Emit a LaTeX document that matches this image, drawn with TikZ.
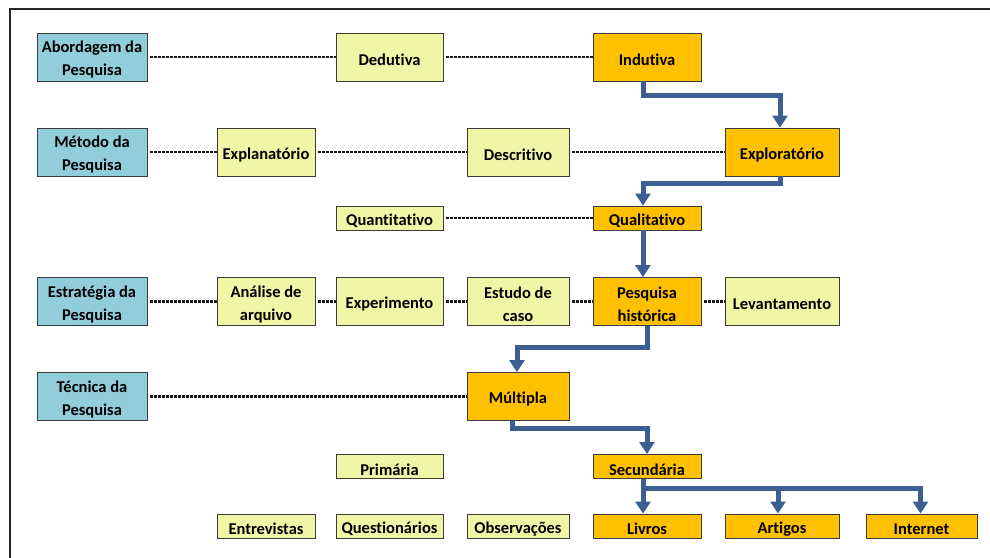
\documentclass[tikz,border=0pt]{standalone}
\usepackage{fontspec}
\setmainfont{Carlito}[Ligatures=NoCommon]
\usetikzlibrary{arrows.meta}
\definecolor{lblblue}{HTML}{92CDDC}
\definecolor{lightyel}{HTML}{EFF6A6}
\definecolor{orng}{HTML}{FFC000}
\definecolor{arrblue}{RGB}{59,95,145}
\definecolor{boxline}{HTML}{3A3A3A}
\newcommand{\dl}[1]{\raisebox{-3pt}[\height][\depth]{#1}}
\tikzset{
  box/.style={draw=boxline, line width=0.9pt, align=center, inner sep=0pt,
    font=\fontsize{16.5}{23}\selectfont\bfseries, text=black},
  blue/.style={box, fill=lblblue, minimum width=110pt},
  yel/.style={box, fill=lightyel},
  org/.style={box, fill=orng},
  tall/.style={minimum height=48pt},
  short/.style={minimum height=24pt},
  cA/.style={minimum width=98pt},
  cB/.style={minimum width=107pt},
  cC/.style={minimum width=102pt},
  cD/.style={minimum width=108pt},
  cE/.style={minimum width=114pt},
  cF/.style={minimum width=111pt},
  dots/.style={line width=2.6pt, draw=black!90, dash pattern=on 2.2pt off 1.8pt, shorten <=3pt},
  arr/.style={line width=5pt, draw=arrblue, -{Triangle[width=15pt,length=12pt]}},
}
\begin{document}
\begin{tikzpicture}[x=1pt,y=-1pt]
\useasboundingbox (0,0) rectangle (990,557);
\fill[white] (0,0) rectangle (990,557);
\draw[line width=2pt, black!85] (10,560) -- (10,9) -- (995,9);

% row 1
\node[blue,tall] (abord) at (92,57) {\dl{Abordagem da}\\\dl{Pesquisa}};
\node[yel,tall,cB] (dedut) at (389.5,57) {\dl{Dedutiva}};
\node[org,tall,cD] (indut) at (647,57) {\dl{Indutiva}};
% row 2
\node[blue,tall] (metodo) at (92,152) {\dl{Método da}\\\dl{Pesquisa}};
\node[yel,tall,cA] (explan) at (266,152) {\dl{Explanatório}};
\node[yel,tall,cC] (descr) at (518,152) {\dl{Descritivo}};
\node[org,tall,cE] (explor) at (782,152) {\dl{Exploratório}};
% row 3
\node[yel,short,cB] (quant) at (389.5,218) {\dl{Quantitativo}};
\node[org,short,cD] (quali) at (647,218) {\dl{Qualitativo}};
% row 4
\node[blue,tall] (estrat) at (92,301.5) {\dl{Estratégia da}\\\dl{Pesquisa}};
\node[yel,tall,cA] (analise) at (266,301.5) {\dl{Análise de}\\\dl{arquivo}};
\node[yel,tall,cB] (experim) at (389.5,301.5) {\dl{Experimento}};
\node[yel,tall,cC] (estudo) at (518,301.5) {\dl{Estudo de}\\\dl{caso}};
\node[org,tall,cD] (pesqhist) at (647,301.5) {\dl{Pesquisa}\\\dl{histórica}};
\node[yel,tall,cE] (levant) at (782,301.5) {\dl{Levantamento}};
% row 5
\node[blue,tall] (tecnica) at (92,396.5) {\dl{Técnica da}\\\dl{Pesquisa}};
\node[org,tall,cC] (multipla) at (518,396.5) {\dl{Múltipla}};
% row 6
\node[yel,short,cB] (primaria) at (389.5,466.5) {\dl{Primária}};
\node[org,short,cD] (secund) at (647,466.5) {\dl{Secundária}};
% row 7
\node[yel,short,cA] (entrev) at (266,526) {\dl{Entrevistas}};
\node[yel,short,cB] (quest) at (389.5,526) {\dl{Questionários}};
\node[yel,short,cC] (obs) at (518,526) {\dl{Observações}};
\node[org,short,cD] (livros) at (647,526) {\dl{Livros}};
\node[org,short,cE] (artigos) at (782,526) {\dl{Artigos}};
\node[org,short,cF] (internet) at (921.5,526) {\dl{Internet}};

% dotted connectors
\draw[dots] (abord) -- (dedut);
\draw[dots] (dedut) -- (indut);
\draw[dots] (metodo) -- (explan);
\draw[dots] (explan) -- (descr);
\draw[dots] (descr) -- (explor);
\draw[dots] (quant) -- (quali);
\draw[dots] (estrat) -- (analise);
\draw[dots] (analise) -- (experim);
\draw[dots] (experim) -- (estudo);
\draw[dots] (estudo) -- (pesqhist);
\draw[dots] (pesqhist) -- (levant);
\draw[dots] (tecnica) -- (multipla);

% blue arrows
\draw[arr] ([xshift=-4pt]indut.south) -- ++(0,14) -| ([xshift=-2pt]explor.north);
\draw[arr] ([xshift=-2pt]explor.south) -- ++(0,7) -| ([xshift=-4pt]quali.north);
\draw[arr] ([xshift=-4pt]quali.south) -- ([xshift=-4pt]pesqhist.north);
\draw[arr] (pesqhist.south) -- ++(0,22) -| ([xshift=-1pt]multipla.north);
\draw[arr] ([xshift=-6pt]multipla.south) -- ++(0,8) -| (secund.north);
\draw[arr] ([xshift=-4pt]secund.south) -- ([xshift=-4pt]livros.north);
\draw[arr] ([xshift=-4pt]secund.south) -- ++(0,10) -| ([xshift=-4pt]artigos.north);
\draw[arr] ([xshift=-4pt]secund.south) -- ++(0,10) -| ([xshift=-1pt]internet.north);
\end{tikzpicture}
\end{document}
